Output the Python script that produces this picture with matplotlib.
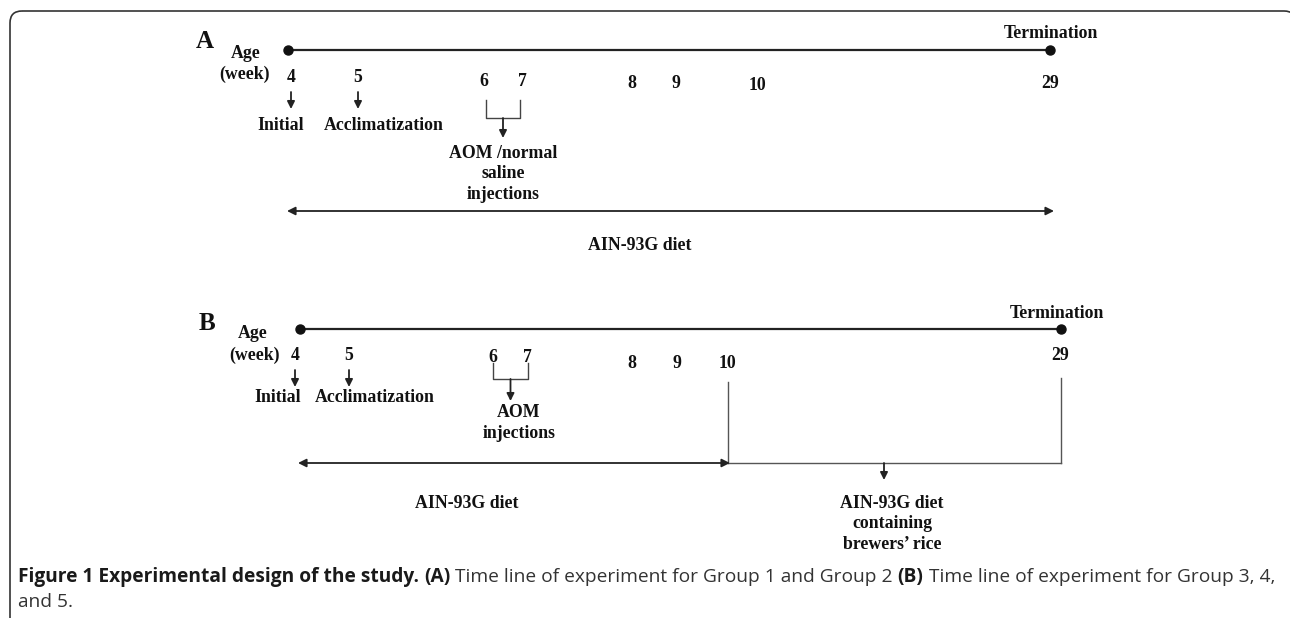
import matplotlib
matplotlib.use('Agg')
import matplotlib.pyplot as plt
from matplotlib.patches import FancyBboxPatch

# ---- diagram content ----
week_labels = ['4', '5', '6', '7', '8', '9', '10', '29']
events_a = ['Initial', 'Acclimatization', 'AOM /normal\nsaline\ninjections']
events_b = ['Initial', 'Acclimatization', 'AOM\ninjections']
diet_a = 'AIN-93G diet'
diet_b = ['AIN-93G diet', 'AIN-93G diet\ncontaining\nbrewers\u2019 rice']
caption_line1 = [('Figure 1 Experimental design of the study.', 'bold'),
                 ('(A)', 'bold'),
                 ('Time line of experiment for Group 1 and Group 2', 'normal'),
                 ('(B)', 'bold'),
                 ('Time line of experiment for Group 3, 4,', 'normal')]
caption_line2 = 'and 5.'

# ---- layout (pixel coordinates, y down) ----
week_x_a = [291, 358, 484, 522, 632, 676, 758, 1050]
week_y_a = [77, 77, 81, 81, 84, 84, 85, 83]
week_x_b = [295, 349, 493, 527, 632, 677, 727, 1060]
week_y_b = [355, 355, 358, 358, 363, 363, 364, 356]

SERIF = 'Liberation Serif'
INK = '#111111'
LINE = '#222222'
FS = 12.8

fig = plt.figure(figsize=(12.9, 6.18), dpi=100)
ax = fig.add_axes([0, 0, 1, 1])
ax.set_xlim(0, 1290)
ax.set_ylim(618, 0)
ax.axis('off')

# frame with rounded corners (right and bottom run off the picture)
frame = FancyBboxPatch((10, 11), 1286, 700, boxstyle='round,pad=0,rounding_size=12',
                       fill=False, ec='#333333', lw=1.2, clip_on=True)
ax.add_patch(frame)


def txt(x, y, s, size=FS, **kw):
    ax.text(x, y, s, fontsize=size, family=SERIF, weight='bold', color=INK,
            ha=kw.pop('ha', 'center'), va=kw.pop('va', 'center'),
            linespacing=kw.pop('linespacing', 1.15), **kw)


def arrow(x0, y0, x1, y1, style='-|>', lw=1.3, ms=11):
    ax.annotate('', xy=(x1, y1), xytext=(x0, y0),
                arrowprops=dict(arrowstyle=style, color=LINE, lw=lw,
                                mutation_scale=ms, shrinkA=0, shrinkB=0))


def bracket(xl, xr, ytop, ybot, yarrow):
    ax.plot([xl, xl, xr, xr], [ytop, ybot, ybot, ytop], color='#444444', lw=1.0)
    xm = (xl + xr) / 2
    arrow(xm, ybot, xm, yarrow)


# ---------------- Panel A ----------------
txt(205, 42, 'A', size=18)
txt(246, 53, 'Age')
txt(245, 74, '(week)')
ax.plot([288, 1050], [50, 50], color=LINE, lw=1.6)
ax.plot([288, 1050], [50, 50], 'o', color='#111111', ms=6.5, ls='none')
txt(1051, 34, 'Termination')
for lab, x, y in zip(week_labels, week_x_a, week_y_a):
    txt(x, y, lab)
arrow(291, 92, 291, 109)
arrow(358, 92, 358, 109)
txt(281, 126, events_a[0])
txt(384, 126, events_a[1])
bracket(486, 520, 100, 118, 138)
txt(503, 174, events_a[2], linespacing=1.3)
arrow(287, 211, 1054, 211, style='<|-|>', ms=12)
txt(640, 246, diet_a)

# ---------------- Panel B ----------------
txt(207, 323, 'B', size=18)
txt(253, 334, 'Age')
txt(255, 355, '(week)')
ax.plot([300, 1061], [329, 329], color=LINE, lw=1.6)
ax.plot([300, 1061], [329, 329], 'o', color='#111111', ms=6.5, ls='none')
txt(1057, 314, 'Termination')
for lab, x, y in zip(week_labels, week_x_b, week_y_b):
    txt(x, y, lab)
arrow(295, 370, 295, 387)
arrow(349, 370, 349, 387)
txt(278, 398, events_b[0])
txt(375, 398, events_b[1])
bracket(493, 528, 363, 379, 401)
txt(519, 423, events_b[2], linespacing=1.3)
arrow(298, 463, 730, 463, style='<|-|>', ms=12)
ax.plot([728, 728], [382, 463], color='#555555', lw=1.0)
ax.plot([1061, 1061], [378, 463], color='#555555', lw=1.0)
ax.plot([728, 1061], [463, 463], color='#555555', lw=1.0)
arrow(884, 463, 884, 480)
txt(467, 504, diet_b[0])
txt(892, 524, diet_b[1], linespacing=1.3)

# ---------------- caption ----------------
fig.canvas.draw()
renderer = fig.canvas.get_renderer()
cap_fs = 13.75
x = 18
gap = 5
for s, w in caption_line1:
    t = ax.text(x, 582, s, fontsize=cap_fs, family='Open Sans', weight=w,
                color='#1a1a1a' if w == 'bold' else '#333333', ha='left', va='baseline')
    bb = t.get_window_extent(renderer)
    x += bb.width + gap
ax.text(18, 607, caption_line2, fontsize=cap_fs, family='Open Sans', color='#333333',
        ha='left', va='baseline')

fig.savefig('out.png', dpi=100)
